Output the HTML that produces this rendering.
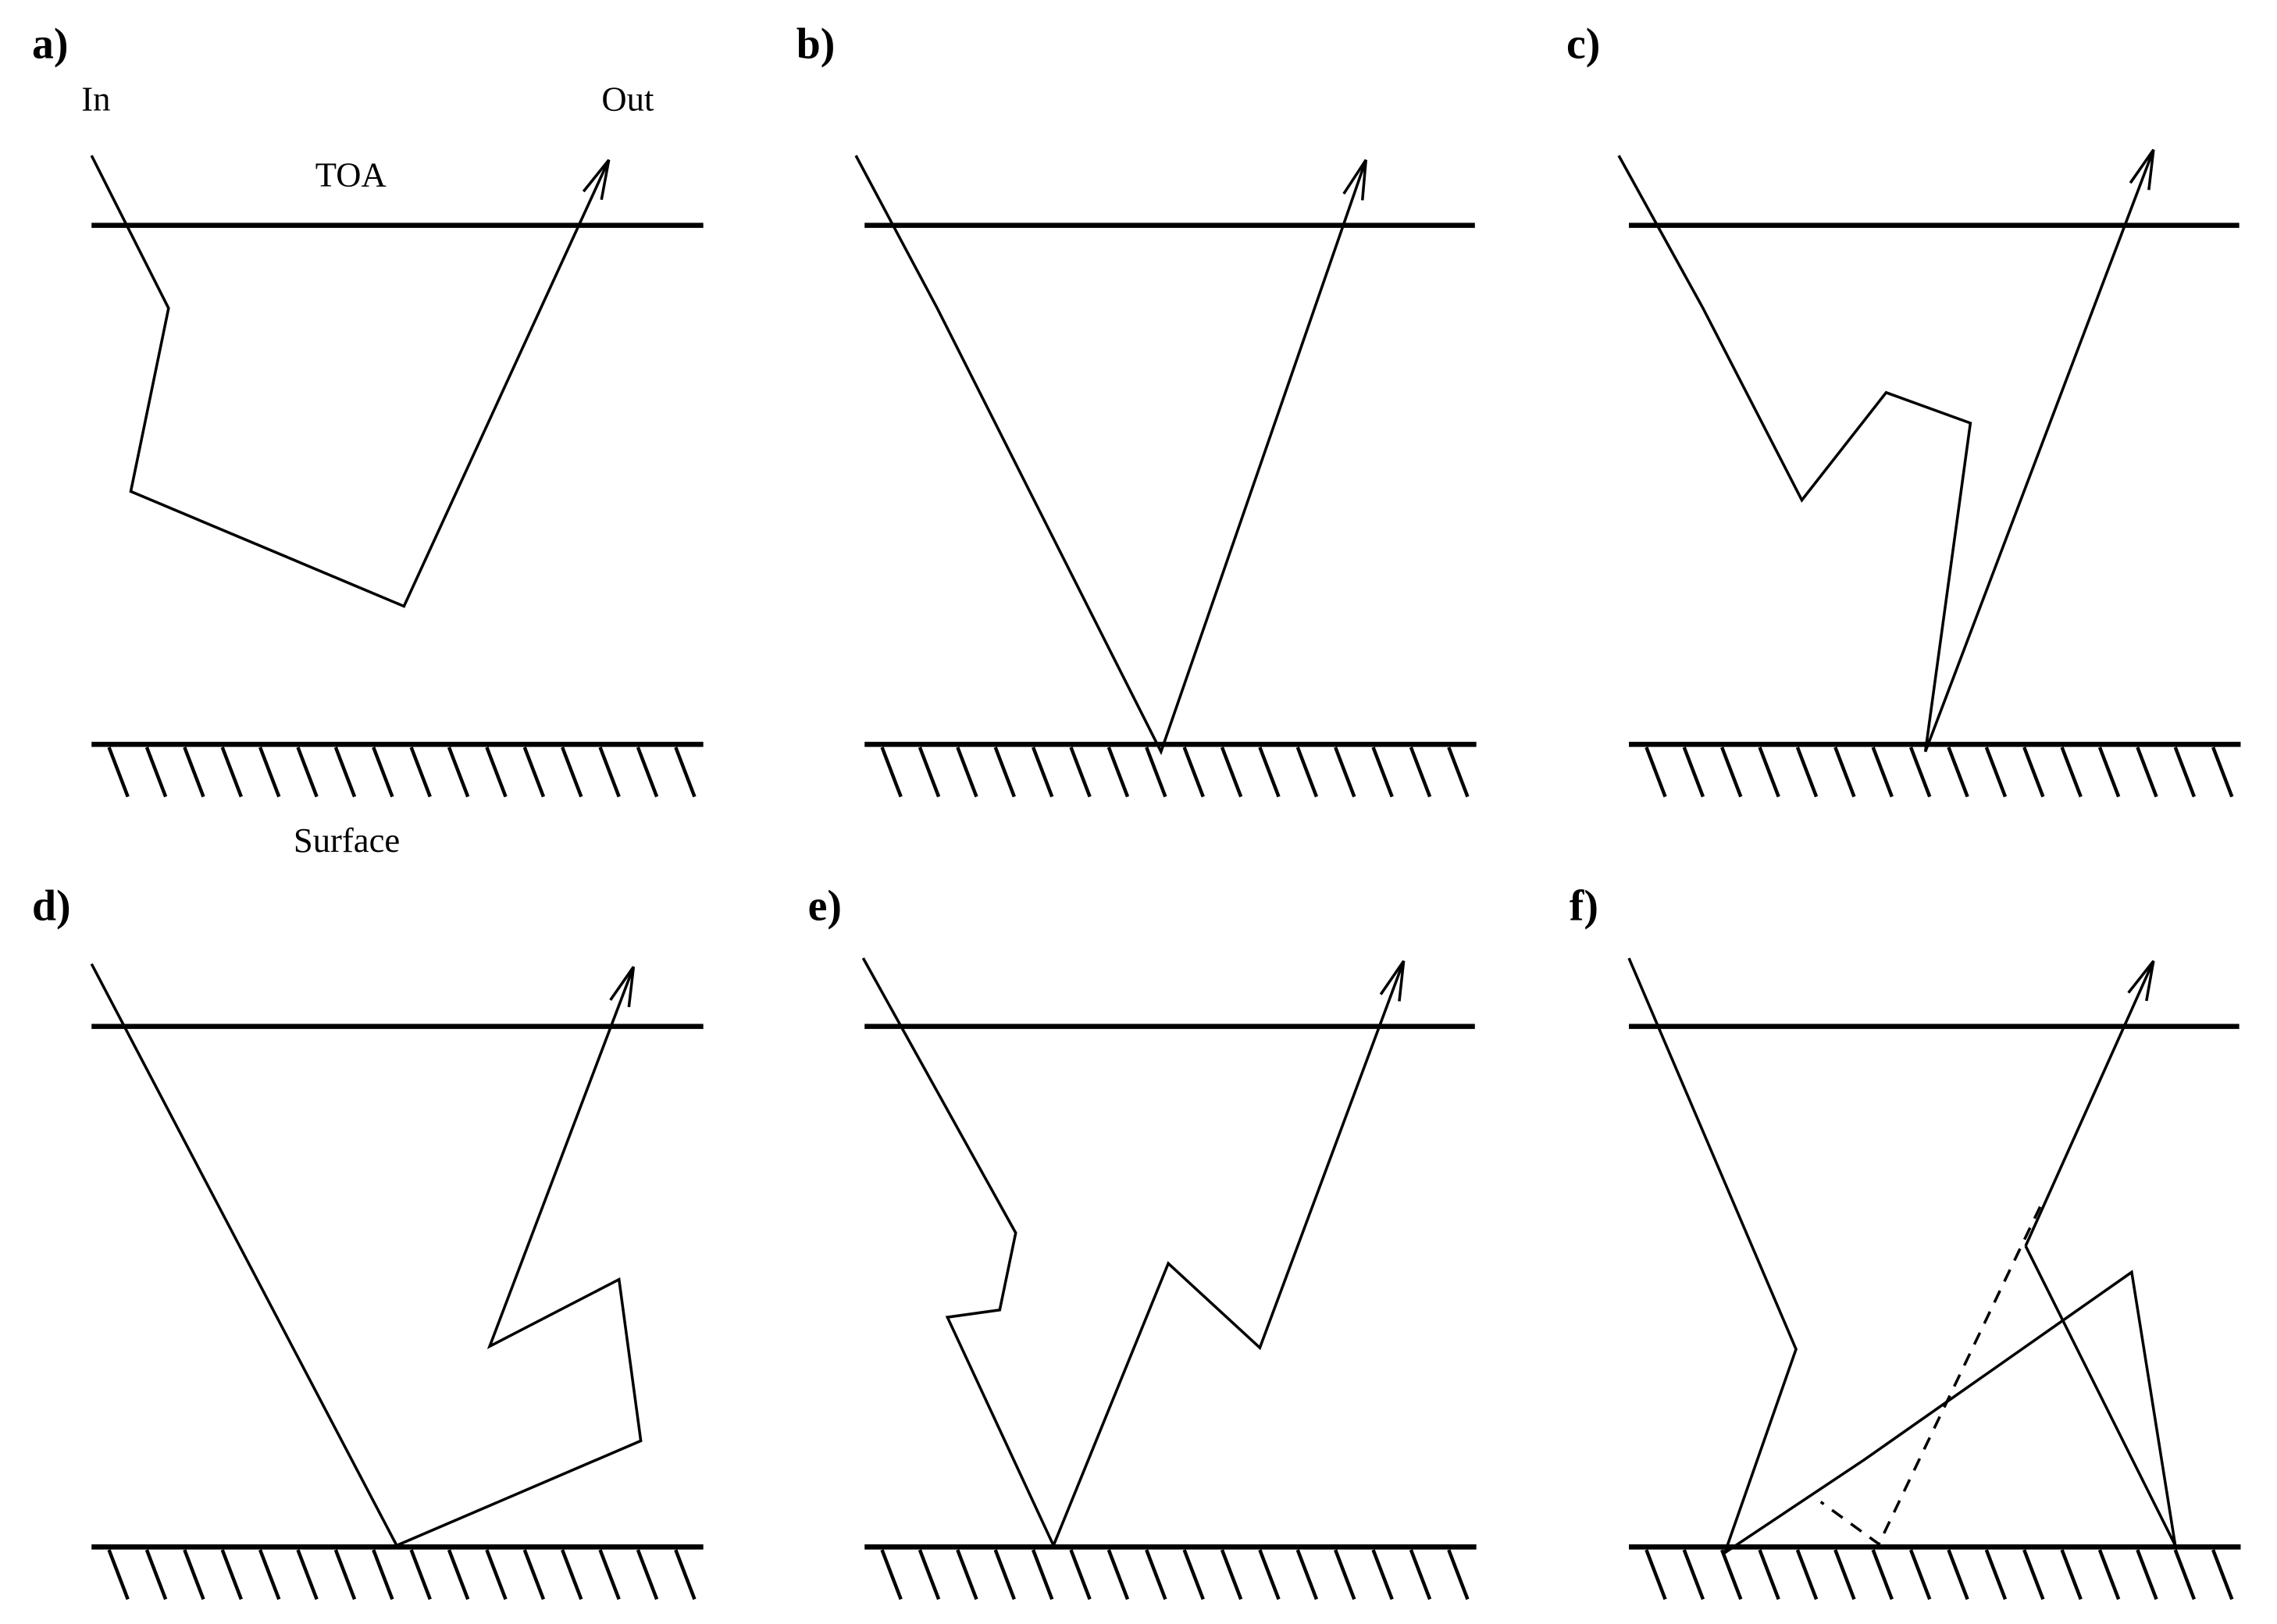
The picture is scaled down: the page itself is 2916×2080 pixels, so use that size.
<!DOCTYPE html>
<html><head><meta charset="utf-8"><style>
html,body{margin:0;padding:0;background:#fff;}
svg{display:block;}
text{font-family:"Liberation Serif",serif;fill:#000;}
.lab{font-weight:bold;font-size:30px;}
.t{font-size:24px;}
</style></head><body>
<svg width="2916" height="2080" viewBox="0 0 1567 1117" preserveAspectRatio="none" xmlns="http://www.w3.org/2000/svg">
<defs>
<marker id="ah" markerUnits="userSpaceOnUse" markerWidth="34" markerHeight="30" refX="28" refY="12" orient="auto">
<path d="M1,5.2 L28,12 L1,18.8" fill="none" stroke="#000" stroke-width="1.9"/>
</marker>
<g id="hatch" stroke="#000" stroke-width="2.4">
<line x1="0" y1="0" x2="421" y2="0" stroke-width="3.5"/>
<line x1="12" y1="2" x2="25" y2="36"/><line x1="38" y1="2" x2="51" y2="36"/>
<line x1="64" y1="2" x2="77" y2="36"/><line x1="90" y1="2" x2="103" y2="36"/>
<line x1="116" y1="2" x2="129" y2="36"/><line x1="142" y1="2" x2="155" y2="36"/>
<line x1="168" y1="2" x2="181" y2="36"/><line x1="194" y1="2" x2="207" y2="36"/>
<line x1="220" y1="2" x2="233" y2="36"/><line x1="246" y1="2" x2="259" y2="36"/>
<line x1="272" y1="2" x2="285" y2="36"/><line x1="298" y1="2" x2="311" y2="36"/>
<line x1="324" y1="2" x2="337" y2="36"/><line x1="350" y1="2" x2="363" y2="36"/>
<line x1="376" y1="2" x2="389" y2="36"/><line x1="402" y1="2" x2="415" y2="36"/>
</g>
</defs>
<g stroke="#000" stroke-width="3.5">
<line x1="63" y1="155" x2="484" y2="155"/><line x1="595" y1="155" x2="1015" y2="155"/><line x1="1121" y1="155" x2="1541" y2="155"/>
<line x1="63" y1="706" x2="484" y2="706"/><line x1="595" y1="706" x2="1015" y2="706"/><line x1="1121" y1="706" x2="1541" y2="706"/>
</g>
<use href="#hatch" x="63" y="512"/><use href="#hatch" x="595" y="512"/><use href="#hatch" x="1121" y="512"/>
<use href="#hatch" x="63" y="1064"/><use href="#hatch" x="595" y="1064"/><use href="#hatch" x="1121" y="1064"/>
<g fill="none" stroke="#000" stroke-width="1.9" stroke-linejoin="miter">
<polyline points="63,107 116,212 90,338 278,417 419,110" marker-end="url(#ah)"/>
<polyline points="589,107 645,212 799,517 940,110" marker-end="url(#ah)"/>
<polyline points="1114,107 1172,212 1240,344 1298,270 1356,291 1325,517 1482,103" marker-end="url(#ah)"/>
<polyline points="63,663 273,1063 441,991 426,880 337,926 436,665" marker-end="url(#ah)"/>
<polyline points="594,659 699,848 688,901 652,906 725,1063 804,869 867,927 966,661" marker-end="url(#ah)"/>
<polyline points="1121,659 1236,928 1187,1068 1283,1004 1467,875 1497,1063 1394,857"/>
<line x1="1394" y1="857" x2="1482" y2="661" marker-end="url(#ah)"/>
<polyline points="1404,830 1293,1062 1253,1033" stroke-dasharray="9,7"/>
</g>
<text class="lab" x="22" y="40">a)</text>
<text class="lab" x="548" y="40">b)</text>
<text class="lab" x="1078" y="40">c)</text>
<text class="lab" x="22" y="633">d)</text>
<text class="lab" x="556" y="633">e)</text>
<text class="lab" x="1080" y="633">f)</text>
<text class="t" x="56" y="76">In</text>
<text class="t" x="414" y="76">Out</text>
<text class="t" x="217" y="128">TOA</text>
<text class="t" x="202" y="586">Surface</text>
</svg>
</body></html>
